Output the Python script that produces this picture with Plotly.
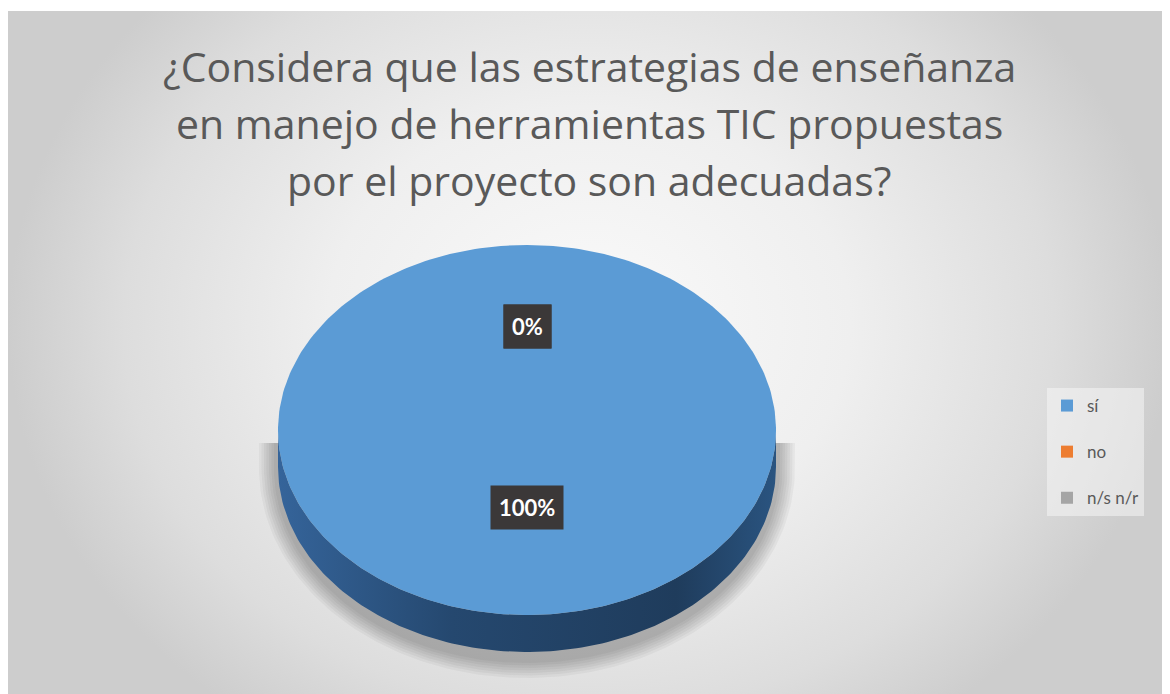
import numpy as np
import plotly.graph_objects as go

# ---- data ----
title_lines = [
    "¿Considera que las estrategias de enseñanza",
    "en manejo de herramientas TIC propuestas",
    "por el proyecto son adecuadas?",
]
categories = ["sí", "no", "n/s n/r"]
values = [100, 0, 0]
colors = ["#5B9BD5", "#ED7D31", "#A5A5A5"]
side_scales = [
    [[0, "#35649a"], [0.35, "#25486f"], [0.8, "#1f3c5c"], [1, "#2a5480"]],
    [[0, "#b35c24"], [1, "#8a4519"]],
    [[0, "#7d7d7d"], [1, "#5f5f5f"]],
]

# ---- geometry (page pixel space; page body has an 8px margin) ----
PAGE_W, PAGE_H = 1170, 694
BODY = 8
X0, Y0 = 8, 11
cx, cy, rx, ry, depth = 527, 430, 249, 185, 37


def ell(theta_deg, dy=0.0):
    t = np.radians(theta_deg)
    return cx + rx * np.sin(t), cy + dy - ry * np.cos(t)


fig = go.Figure()

# background radial gradient
fig.add_trace(go.Scatter(
    x=[X0, PAGE_W, PAGE_W, X0, X0], y=[-160, -160, 810, 810, -160],
    mode="lines", line=dict(width=0), fill="toself",
    fillgradient=dict(type="radial",
                      colorscale=[[0, "#fafafa"], [0.45, "#efefef"], [0.8, "#dddddd"], [1, "#cdcdcd"]]),
    hoverinfo="skip", showlegend=False))

# soft shadow under the pie
for i in range(7):
    e = 2.5 * i
    t = np.linspace(90, 270, 120)
    sx = cx + (rx + 4 + e) * np.sin(np.radians(t))
    sy = (cy + 38) - (ry + 10 + e) * np.cos(np.radians(t))
    top_y = 443
    xs = np.concatenate([[cx + rx + 4 + e], sx, [cx - rx - 4 - e]])
    ys = np.concatenate([[top_y], sy, [top_y]])
    xs = np.append(xs, xs[0]); ys = np.append(ys, ys[0])
    fig.add_trace(go.Scatter(x=xs, y=ys, mode="lines", line=dict(width=0),
                             fill="toself", fillcolor="rgba(0,0,0,0.04)",
                             hoverinfo="skip", showlegend=False))

total = float(sum(values))
fracs = [v / total for v in values]
starts = np.cumsum([0] + fracs[:-1]) * 360
ends = starts + np.array(fracs) * 360

# side walls (front half 90..270 deg)
for k, (a0, a1) in enumerate(zip(starts, ends)):
    lo, hi = max(a0, 90), min(a1, 270)
    if hi <= lo:
        continue
    t = np.linspace(lo, hi, 150)
    tx, ty = ell(t)
    bx, by = ell(t[::-1], dy=depth)
    xs = np.concatenate([tx, bx, tx[:1]])
    ys = np.concatenate([ty, by, ty[:1]])
    fig.add_trace(go.Scatter(x=xs, y=ys, mode="lines", line=dict(width=0),
                             fill="toself",
                             fillgradient=dict(type="horizontal", colorscale=side_scales[k]),
                             hoverinfo="skip", showlegend=False))

# top faces
for k, (a0, a1) in enumerate(zip(starts, ends)):
    if a1 - a0 <= 0:
        continue
    t = np.linspace(a0, a1, 300)
    tx, ty = ell(t)
    if a1 - a0 < 360:
        xs = np.concatenate([[cx], tx, [cx]]); ys = np.concatenate([[cy], ty, [cy]])
    else:
        xs, ys = tx, ty
    fig.add_trace(go.Scatter(x=xs, y=ys, mode="lines", line=dict(width=0),
                             fill="toself", fillcolor=colors[k],
                             hoverinfo="skip", showlegend=False))

# legend entries
for k, c in enumerate(categories):
    fig.add_trace(go.Scatter(x=[None], y=[None], mode="markers", name=c,
                             legendgroup=c,
                             marker=dict(symbol="square", size=12, color=colors[k])))

annotations = []
# data labels
for k, (a0, a1) in enumerate(zip(starts, ends)):
    mid = (a0 + a1) / 2 % 360
    lx = cx + 0.49 * rx * np.sin(np.radians(mid))
    ly = cy - 13 - 0.49 * ry * np.cos(np.radians(mid))
    annotations.append(dict(x=lx, y=ly, xref="x", yref="y", showarrow=False,
                            text="<b>%d%%</b>" % round(fracs[k] * 100),
                            font=dict(family="Lato", size=22, color="white"),
                            bgcolor="#3b3838", borderpad=8))

# title lines
for i, line in enumerate(title_lines):
    annotations.append(dict(x=(X0 + PAGE_W) / 2, y=66 + 57 * i, xref="x", yref="y",
                            showarrow=False, text=line,
                            font=dict(family="Open Sans", size=41, color="#595959")))

fig_w, fig_h = PAGE_W - BODY, PAGE_H - BODY
fig.update_layout(
    width=fig_w, height=fig_h,
    margin=dict(l=X0 - BODY, r=0, t=Y0 - BODY, b=0),
    paper_bgcolor="white", plot_bgcolor="white",
    xaxis=dict(range=[X0, PAGE_W], visible=False, fixedrange=True),
    yaxis=dict(range=[PAGE_H, Y0], visible=False, fixedrange=True),
    showlegend=True,
    legend=dict(x=(1047 - X0) / (PAGE_W - X0), y=(PAGE_H - 388) / (PAGE_H - Y0),
                xanchor="left", yanchor="top",
                font=dict(family="Lato", size=17, color="#595959"),
                bgcolor="rgba(245,245,245,0.55)", traceorder="grouped",
                tracegroupgap=21, itemwidth=30),
    annotations=annotations,
)

fig.write_html("out.html")
